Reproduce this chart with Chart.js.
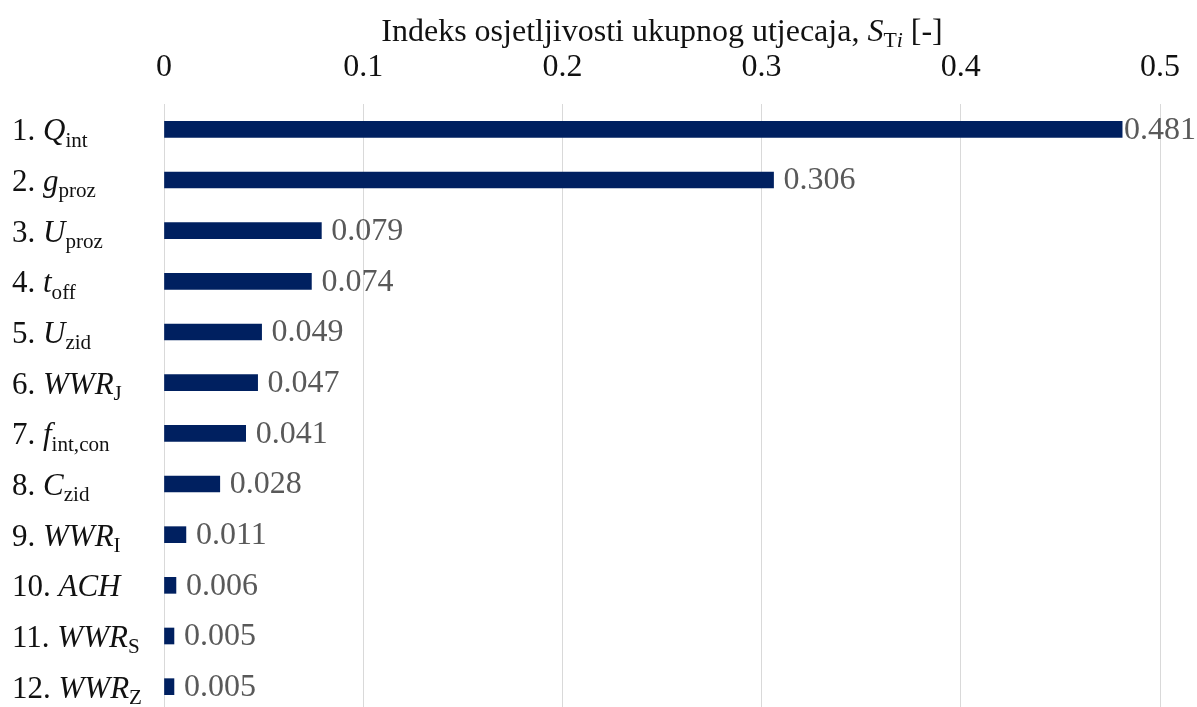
<!DOCTYPE html>
<html>
<head>
<meta charset="utf-8">
<title>Indeks osjetljivosti ukupnog utjecaja</title>
<script src="https://cdn.jsdelivr.net/npm/chart.js@4.4.1/dist/chart.umd.min.js"></script>
<style>
  html, body { margin: 0; padding: 0; background: #fff; overflow: hidden; }
  #wrap { position: relative; width: 1197px; height: 712px; }
</style>
</head>
<body>
<div id="wrap"><canvas id="chart"></canvas></div>
<script>
// ── Data ───────────────────────────────────────────────────────────────────

const SYMBOLS    = ['Q', 'g', 'U', 't', 'U', 'WWR', 'f', 'C', 'WWR', 'ACH', 'WWR', 'WWR'];
const SUBSCRIPTS = ['int', 'proz', 'proz', 'off', 'zid', 'J', 'int,con', 'zid', 'I', '', 'S', 'Z'];
const VALUES     = [0.481, 0.306, 0.079, 0.074, 0.049, 0.047, 0.041, 0.028, 0.011, 0.006, 0.005, 0.005];
const TICK_LABELS = ['0', '0.1', '0.2', '0.3', '0.4', '0.5'];

// ── Style ──────────────────────────────────────────────────────────────────

const SERIF     = "'Liberation Serif', 'Times New Roman', serif";
const BAR_COLOR = '#002060';
const VAL_COLOR = '#595959';
const TXT_COLOR = '#111111';

// ── Rich text (italic symbols + subscripts) ────────────────────────────────

const fontOf = (size, italic) => `${italic ? 'italic ' : ''}${size}px ${SERIF}`;

const measureRich = (ctx, parts, size) => parts.reduce((w, p) => {
  ctx.font = fontOf(p.sub ? size * 0.68 : size, p.italic);
  return w + ctx.measureText(p.t).width;
}, 0);

const drawRich = (ctx, parts, x, y, size, color) => {
  ctx.save();
  ctx.fillStyle = color;
  ctx.textBaseline = 'alphabetic';
  ctx.textAlign = 'left';
  parts.forEach(p => {
    const s = p.sub ? size * 0.68 : size;
    ctx.font = fontOf(s, p.italic);
    ctx.fillText(p.t, x, p.sub ? y + size * 0.2 : y);
    x += ctx.measureText(p.t).width;
  });
  ctx.restore();
};

const categoryParts = (i) => {
  const parts = [{ t: `${i + 1}. ` }, { t: SYMBOLS[i], italic: true }];
  if (SUBSCRIPTS[i]) parts.push({ t: SUBSCRIPTS[i], sub: true });
  return parts;
};

const TITLE_PARTS = [
  { t: 'Indeks osjetljivosti ukupnog utjecaja, ' },
  { t: 'S', italic: true },
  { t: 'T', sub: true },
  { t: 'i', sub: true, italic: true },
  { t: ' [-]' }
];

// ── Plugin: category labels, value labels, axis title ──────────────────────

const richLabels = {
  id: 'richLabels',
  afterDraw(chart) {
    const { ctx, chartArea, scales } = chart;
    const y = scales.y;
    const meta = chart.getDatasetMeta(0);

    VALUES.forEach((v, i) => {
      const cy = y.getPixelForValue(i);
      drawRich(ctx, categoryParts(i), 12, cy + 11, 31, TXT_COLOR);

      const bar = meta.data[i];
      const txt = v.toFixed(3);
      ctx.save();
      ctx.font = fontOf(32, false);
      const w = ctx.measureText(txt).width;
      const tx = Math.min(bar.x + 10, chart.width - w - 1);
      ctx.fillStyle = VAL_COLOR;
      ctx.textBaseline = 'middle';
      ctx.fillText(txt, tx, cy + 1);
      ctx.restore();
    });

    const tw = measureRich(ctx, TITLE_PARTS, 32);
    const cx = (chartArea.left + chartArea.right) / 2;
    drawRich(ctx, TITLE_PARTS, cx - tw / 2, 41, 32, TXT_COLOR);
  }
};

// ── Chart ──────────────────────────────────────────────────────────────────

new Chart(document.getElementById('chart'), {
  type: 'bar',
  data: {
    labels: SYMBOLS.map((s, i) => `${i + 1}. ${s}${SUBSCRIPTS[i]}`),
    datasets: [{
      data: VALUES,
      backgroundColor: BAR_COLOR,
      barThickness: 16,
      borderWidth: 0
    }]
  },
  options: {
    indexAxis: 'y',
    responsive: true,
    maintainAspectRatio: false,
    animation: false,
    layout: { padding: { left: 164, right: 35, top: 0, bottom: 0 } },
    plugins: { legend: { display: false }, tooltip: { enabled: false } },
    scales: {
      x: {
        position: 'top',
        min: 0,
        max: 0.5,
        afterFit: (scale) => { scale.height = 104; },
        ticks: {
          stepSize: 0.1,
          padding: 17,
          color: TXT_COLOR,
          font: { family: SERIF, size: 32 },
          callback: (v, i) => TICK_LABELS[i]
        },
        grid: { color: '#d9d9d9', lineWidth: 1, drawTicks: false },
        border: { display: false }
      },
      y: { display: false }
    }
  },
  plugins: [richLabels]
});
</script>
</body>
</html>
